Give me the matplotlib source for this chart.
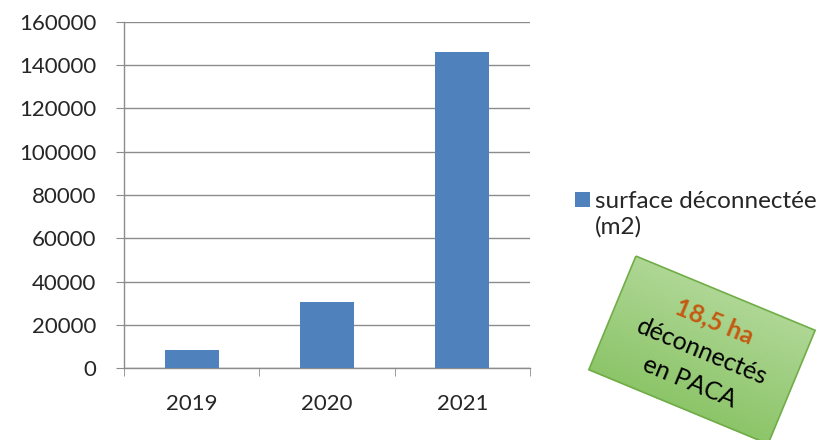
import matplotlib
matplotlib.use("Agg")
import matplotlib.pyplot as plt
import numpy as np
from matplotlib.patches import Rectangle, Polygon
from matplotlib.transforms import Affine2D

years = ["2019", "2020", "2021"]
surface_m2 = [8500, 30500, 146000]
y_ticks = [0, 20000, 40000, 60000, 80000, 100000, 120000, 140000, 160000]
series_label = "surface déconnectée\n(m2)"
callout_lines = ["18,5 ha", "déconnectés", "en PACA"]

plt.rcParams["font.family"] = ["Lato", "DejaVu Sans"]

W, H = 823, 440
fig = plt.figure(figsize=(W / 100, H / 100), dpi=100)
fig.patch.set_facecolor("white")

ax = fig.add_axes([124 / W, (H - 368) / H, (530 - 124) / W, (368 - 22) / H])
x = np.arange(len(years))
ax.bar(x, surface_m2, width=0.4, color="#4F81BD", zorder=3)

ax.set_xlim(-0.5, 2.5)
ax.set_ylim(0, 160000)
ax.set_yticks(y_ticks)
ax.set_yticklabels([str(v) for v in y_ticks], fontsize=16, color="#262626")
ax.set_xticks(x)
ax.set_xticklabels(years, fontsize=16, color="#262626")
ax.tick_params(axis="x", which="major", length=0, pad=19)
ax.set_xticks(np.arange(-0.5, 3.0, 1.0), minor=True)
ax.tick_params(axis="x", which="minor", length=6, color="#8c8c8c", direction="out")
ax.tick_params(axis="y", length=6, color="#8c8c8c", direction="out", pad=14)

ax.grid(axis="y", color="#8c8c8c", linewidth=1.0, zorder=0)
for side in ["top", "right"]:
    ax.spines[side].set_visible(False)
for side in ["left", "bottom"]:
    ax.spines[side].set_color("#8c8c8c")
    ax.spines[side].set_linewidth(1.0)

# Legend entry drawn at figure level
fig.patches.append(Rectangle((575 / W, 1 - 207 / H), 15 / W, 15 / H,
                             transform=fig.transFigure, facecolor="#4F81BD",
                             edgecolor="none"))
fig.text(595 / W, 1 - 214 / H, series_label, fontsize=17.5, color="#262626",
         va="center", ha="left", linespacing=1.25, transform=fig.transFigure)

# Rotated green callout box (pixel coordinates, y pointing down)
overlay = fig.add_axes([0, 0, 1, 1], zorder=5)
overlay.set_xlim(0, W)
overlay.set_ylim(H, 0)
overlay.axis("off")

cx, cy = 702, 350
bw, bh = 194, 123
angle = 22.5
rot = Affine2D().rotate_deg_around(cx, cy, angle)

top = np.array([0.68, 0.84, 0.58])
bot = np.array([0.55, 0.77, 0.41])
n_strips = 60
x0, x1 = cx - bw / 2, cx + bw / 2
for k in range(n_strips):
    y0 = cy - bh / 2 + bh * k / n_strips
    y1 = cy - bh / 2 + bh * (k + 1) / n_strips + 0.6
    t = k / (n_strips - 1)
    strip = Polygon([(x0, y0), (x1, y0), (x1, y1), (x0, y1)], closed=True,
                    facecolor=top + (bot - top) * t, edgecolor="none",
                    zorder=2)
    strip.set_transform(rot + overlay.transData)
    overlay.add_patch(strip)

box = Rectangle((x0, cy - bh / 2), bw, bh, facecolor="none",
                edgecolor="#70AD47", linewidth=1.2, zorder=3)
box.set_transform(rot + overlay.transData)
overlay.add_patch(box)

line_gap = 33
a = np.deg2rad(angle)
for i, (txt, col, wt) in enumerate(zip(callout_lines,
                                       ["#C55A11", "black", "black"],
                                       ["bold", "normal", "normal"])):
    off = (i - 1) * line_gap
    tx = cx - off * np.sin(a)
    ty = cy + 2 + off * np.cos(a)
    overlay.text(tx, ty, txt, fontsize=18, color=col, fontweight=wt,
                 rotation=-angle, rotation_mode="anchor",
                 ha="center", va="center", zorder=4)

fig.savefig("out.png", dpi=100)
